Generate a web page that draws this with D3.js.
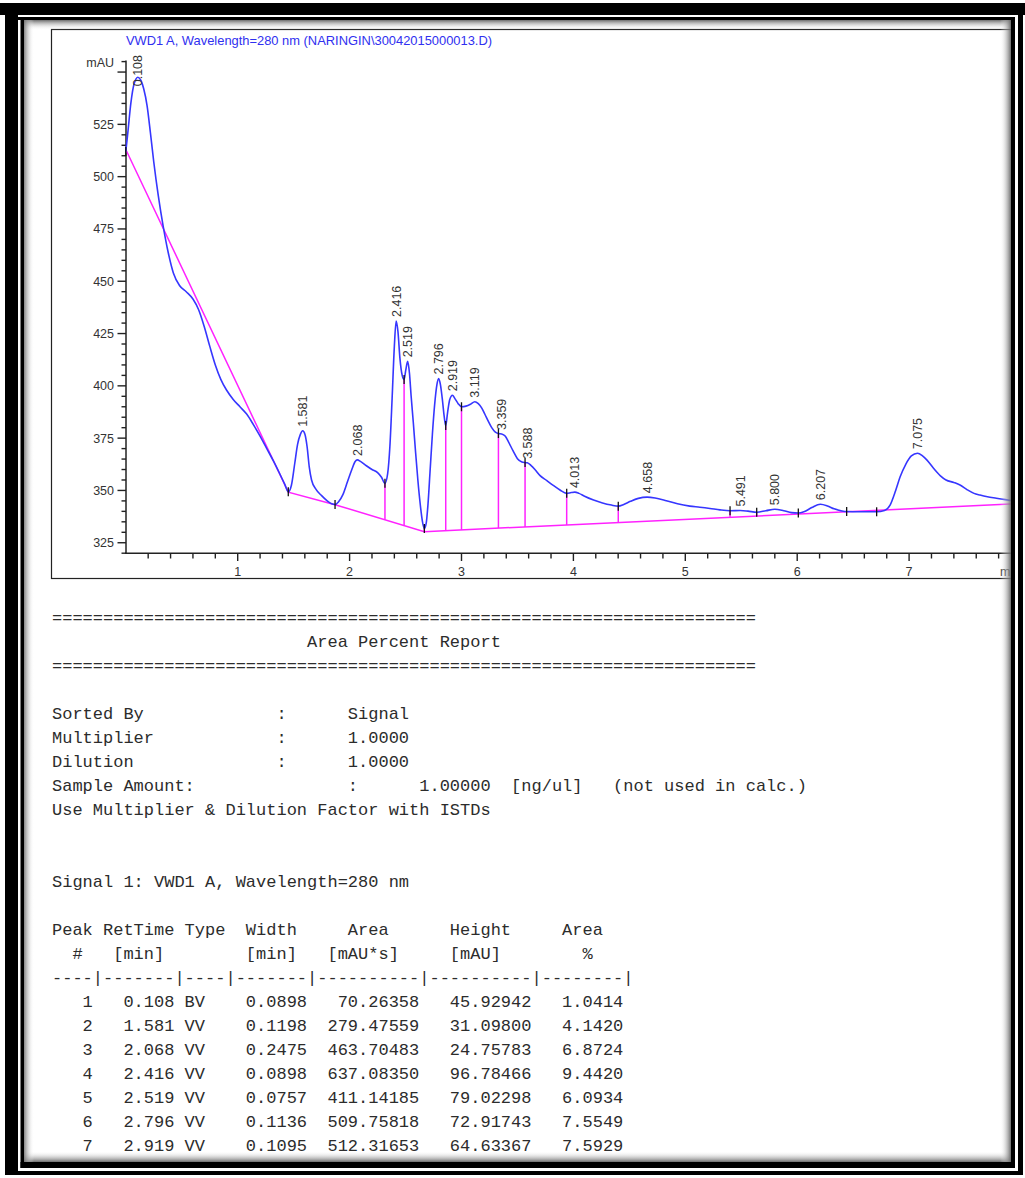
<!DOCTYPE html>
<html>
<head>
<meta charset="utf-8">
<script src="https://cdn.jsdelivr.net/npm/d3@7"></script>
<style>
  html, body { margin: 0; padding: 0; background: #fff; }
  svg { display: block; }
  .mono { font-family: "Liberation Mono", "DejaVu Sans Mono", monospace; font-size: 17px; fill: #2c2c2c; white-space: pre; }
  .sans { font-family: "Liberation Sans", Arial, sans-serif; }
</style>
</head>
<body>
<svg id="page" width="1025" height="1178"></svg>
<script>
// ---- Chromatogram: retention time (min), absorbance (mAU)
const signal = [
  [0.000, 512.0], [0.020, 522.0], [0.045, 535.0], [0.075, 544.5], [0.108, 547.5],
  [0.135, 546.0], [0.160, 542.0], [0.190, 534.0], [0.220, 521.0], [0.250, 507.0],
  [0.290, 491.0], [0.335, 476.0], [0.380, 463.5], [0.425, 454.0], [0.480, 448.0],
  [0.540, 445.0], [0.600, 441.5], [0.650, 436.5], [0.700, 428.5], [0.750, 419.0],
  [0.800, 410.0], [0.850, 403.0], [0.900, 398.0], [0.960, 393.5], [1.020, 390.0],
  [1.080, 386.5], [1.140, 381.5], [1.200, 376.0], [1.260, 370.0], [1.320, 364.0],
  [1.380, 357.5], [1.420, 353.0], [1.452, 349.4], [1.480, 352.5], [1.510, 363.0],
  [1.535, 372.0], [1.560, 376.8], [1.581, 378.5], [1.600, 377.0], [1.620, 371.0],
  [1.640, 361.0], [1.660, 355.0], [1.700, 350.5], [1.750, 347.5], [1.800, 345.0],
  [1.840, 343.6], [1.870, 343.3], [1.900, 344.5], [1.940, 348.0], [1.980, 354.0],
  [2.020, 360.0], [2.050, 363.8], [2.068, 364.6], [2.100, 363.8], [2.150, 361.8],
  [2.200, 360.0], [2.250, 358.5], [2.285, 356.3], [2.316, 353.4], [2.340, 358.0],
  [2.360, 371.0], [2.380, 394.0], [2.400, 419.0], [2.416, 431.0], [2.432, 426.0],
  [2.450, 413.0], [2.470, 405.0], [2.487, 403.0], [2.502, 407.5], [2.519, 411.7],
  [2.535, 406.0], [2.550, 395.0], [2.570, 382.0], [2.590, 368.0], [2.610, 355.0],
  [2.630, 344.0], [2.650, 335.5], [2.668, 331.8], [2.685, 334.5], [2.700, 343.0],
  [2.720, 360.0], [2.740, 377.0], [2.760, 391.0], [2.780, 400.5], [2.796, 403.5],
  [2.812, 400.5], [2.830, 393.0], [2.845, 385.5], [2.859, 381.0], [2.875, 387.0],
  [2.895, 393.5], [2.919, 395.5], [2.940, 394.0], [2.970, 391.5], [3.000, 390.0],
  [3.040, 390.3], [3.080, 391.2], [3.119, 392.4], [3.150, 391.5], [3.180, 389.5],
  [3.210, 386.3], [3.240, 383.0], [3.270, 380.0], [3.300, 378.0], [3.330, 377.2],
  [3.359, 377.0], [3.390, 376.0], [3.420, 373.2], [3.460, 369.0], [3.500, 365.2],
  [3.540, 363.6], [3.568, 363.3], [3.588, 363.2], [3.620, 362.0], [3.660, 359.8],
  [3.700, 357.2], [3.760, 354.8], [3.820, 352.4], [3.880, 350.2], [3.940, 348.6],
  [3.980, 349.0], [4.013, 349.2], [4.050, 348.6], [4.100, 347.2], [4.180, 345.4],
  [4.260, 344.0], [4.340, 343.0], [4.401, 342.5], [4.450, 343.3], [4.510, 344.8],
  [4.580, 346.2], [4.658, 346.8], [4.730, 346.4], [4.830, 345.1], [4.930, 343.6],
  [5.040, 342.5], [5.130, 342.0], [5.220, 341.4], [5.310, 340.7], [5.400, 340.3],
  [5.491, 340.4], [5.560, 340.1], [5.638, 339.6], [5.720, 340.3], [5.800, 341.0],
  [5.880, 340.3], [5.950, 339.4], [6.010, 339.2], [6.060, 339.8], [6.130, 341.8],
  [6.207, 343.4], [6.270, 342.6], [6.330, 341.2], [6.400, 340.2], [6.442, 339.9],
  [6.550, 339.8], [6.650, 339.8], [6.710, 339.8], [6.780, 340.4], [6.830, 343.0],
  [6.880, 350.0], [6.920, 356.5], [6.970, 362.5], [7.020, 366.5], [7.075, 367.8],
  [7.120, 366.5], [7.160, 364.5], [7.220, 360.5], [7.280, 357.0], [7.330, 355.0],
  [7.400, 353.8], [7.455, 352.6], [7.520, 350.3], [7.580, 348.6], [7.634, 347.8],
  [7.700, 347.0], [7.780, 346.3], [7.860, 345.6], [7.950, 344.8]
];

// Integration baseline vertices (min, mAU)
const baselineTime = [0, 1.452, 1.870, 2.668, 7.950];
const baselineMAU  = [513.0, 349.2, 343.2, 330.3, 343.6];

// Peak start / end markers (min)
const markerTime = [0, 1.452, 1.870, 2.316, 2.487, 2.668, 2.859, 3.000, 3.330,
                    3.568, 3.940, 4.401, 5.400, 5.638, 6.010, 6.442, 6.710];

// Peak apex retention times
const peakRT = ["0.108", "1.581", "2.068", "2.416", "2.519", "2.796", "2.919", "3.119",
                "3.359", "3.588", "4.013", "4.658", "5.491", "5.800", "6.207", "7.075"];

// Axis ticks
const yTickValues = [325, 350, 375, 400, 425, 450, 475, 500, 525];
const xTickValues = [1, 2, 3, 4, 5, 6, 7];

const chartTitle = "VWD1 A, Wavelength=280 nm (NARINGIN\\30042015000013.D)";

// ---- Area percent report table
const tblPeak   = [1, 2, 3, 4, 5, 6, 7];
const tblRT     = [0.108, 1.581, 2.068, 2.416, 2.519, 2.796, 2.919];
const tblType   = ["BV", "VV", "VV", "VV", "VV", "VV", "VV"];
const tblWidth  = [0.0898, 0.1198, 0.2475, 0.0898, 0.0757, 0.1136, 0.1095];
const tblArea   = [70.26358, 279.47559, 463.70483, 637.08350, 411.14185, 509.75818, 512.31653];
const tblHeight = [45.92942, 31.09800, 24.75783, 96.78466, 79.02298, 72.91743, 64.63367];
const tblPct    = [1.0414, 4.1420, 6.8724, 9.4420, 6.0934, 7.5549, 7.5929];

// ---------------------------------------------------------------
const svg = d3.select("#page");

const x = d3.scaleLinear().domain([0, 7.95]).range([125.8, 125.8 + 7.95 * 111.9]);
const y = d3.scaleLinear().domain([320, 555]).range([553.2, 61.6]);

const sigT = signal.map(d => d[0]);
const sigV = signal.map(d => d[1]);
const valueAt = t => {
  const i = d3.bisectLeft(sigT, t - 1e-9);
  if (i <= 0) return sigV[0];
  if (i >= sigT.length) return sigV[sigV.length - 1];
  const t0 = sigT[i - 1], t1 = sigT[i];
  return sigV[i - 1] + (sigV[i] - sigV[i - 1]) * (t - t0) / (t1 - t0);
};
const baseAt = t => {
  const i = Math.min(Math.max(d3.bisectRight(baselineTime, t), 1), baselineTime.length - 1);
  const t0 = baselineTime[i - 1], t1 = baselineTime[i];
  return baselineMAU[i - 1] + (baselineMAU[i] - baselineMAU[i - 1]) * (t - t0) / (t1 - t0);
};

// chart frame
svg.append("rect")
  .attr("x", 51.5).attr("y", 29.5).attr("width", 1000).attr("height", 549)
  .attr("fill", "none").attr("stroke", "#222").attr("stroke-width", 1.2);

// title
svg.append("text").attr("class", "sans")
  .attr("x", 126).attr("y", 44.5)
  .attr("font-size", 12.9).attr("fill", "#3030f0")
  .text(chartTitle);

// y axis
const yMinor = d3.range(320, 556, 5);
svg.append("line").attr("x1", 126).attr("x2", 126).attr("y1", y(555) - 1).attr("y2", 553.2)
  .attr("stroke", "#222").attr("stroke-width", 1.5);
svg.append("g").selectAll("line").data(yMinor).join("line")
  .attr("x1", d => (d % 25 === 0) ? 117.5 : 121.5).attr("x2", 126)
  .attr("y1", d => y(d)).attr("y2", d => y(d))
  .attr("stroke", "#222").attr("stroke-width", 1.4);
svg.append("g").selectAll("text").data(yTickValues).join("text")
  .attr("class", "sans").attr("font-size", 12.5).attr("fill", "#333")
  .attr("text-anchor", "end").attr("x", 114).attr("y", d => y(d)).attr("dy", "0.36em")
  .text(d => d);
svg.append("text").attr("class", "sans").attr("font-size", 12.5).attr("fill", "#333")
  .attr("text-anchor", "end").attr("x", 114).attr("y", 62.5).attr("dy", "0.36em")
  .text("mAU");

// x axis
const xMinor = d3.range(0.2, 7.95, 0.2);
svg.append("line").attr("x1", 125).attr("x2", 1020).attr("y1", 553.2).attr("y2", 553.2)
  .attr("stroke", "#222").attr("stroke-width", 1.5);
svg.append("g").selectAll("line").data(xMinor).join("line")
  .attr("x1", d => x(d)).attr("x2", d => x(d))
  .attr("y1", 553.2).attr("y2", d => (Math.abs(d - Math.round(d)) < 1e-6) ? 561 : 558.5)
  .attr("stroke", "#222").attr("stroke-width", 1.4);
svg.append("g").selectAll("text").data(xTickValues).join("text")
  .attr("class", "sans").attr("font-size", 12.5).attr("fill", "#333")
  .attr("text-anchor", "middle").attr("x", d => x(d)).attr("y", 575.5)
  .text(d => d);
svg.append("text").attr("class", "sans").attr("font-size", 12.5).attr("fill", "#333")
  .attr("x", 1000).attr("y", 575.5).text("min");

// baseline
const line = d3.line().x(d => x(d[0])).y(d => y(d[1]));
svg.append("path")
  .datum(baselineTime.map((t, i) => [t, baselineMAU[i]]))
  .attr("d", line).attr("fill", "none").attr("stroke", "#ff22ff").attr("stroke-width", 1.5);

// drop lines at peak boundaries
svg.append("g").selectAll("line")
  .data(markerTime.filter(t => valueAt(t) - baseAt(t) > 0.8))
  .join("line")
  .attr("x1", d => x(d)).attr("x2", d => x(d))
  .attr("y1", d => y(valueAt(d))).attr("y2", d => y(baseAt(d)))
  .attr("stroke", "#ff22ff").attr("stroke-width", 1.5);

// signal trace
svg.append("path")
  .datum(signal)
  .attr("d", d3.line().x(d => x(d[0])).y(d => y(d[1])).curve(d3.curveMonotoneX))
  .attr("fill", "none").attr("stroke", "#3636ff").attr("stroke-width", 1.6);

// start / end markers
svg.append("g").selectAll("line").data(markerTime).join("line")
  .attr("x1", d => x(d)).attr("x2", d => x(d))
  .attr("y1", d => y(valueAt(d)) - 4.5).attr("y2", d => y(valueAt(d)) + 4.5)
  .attr("stroke", "#111").attr("stroke-width", 1.3);

// retention time labels above each apex
const lbl = svg.append("g").selectAll("text").data(peakRT).join("text")
  .attr("class", "sans").attr("font-size", 12.5).attr("fill", "#333")
  .attr("dy", "0.36em")
  .text(d => d);
lbl.each(function (d) {
  const t = +d;
  const len = this.getComputedTextLength();
  const bottom = Math.max(y(valueAt(t)) - 4, 55 + len);
  d3.select(this).attr("transform", `translate(${x(t)},${bottom}) rotate(-90)`);
});

// ---- report text
const eq = "=".repeat(69);
const pad = (s, n) => String(s).padStart(n, " ");
const rpad = (s, n) => String(s).padEnd(n, " ");
const reportLines = [
  eq,
  " ".repeat(25) + "Area Percent Report",
  eq,
  "",
  rpad("Sorted By", 22) + ":      Signal",
  rpad("Multiplier", 22) + ":      1.0000",
  rpad("Dilution", 22) + ":      1.0000",
  rpad("Sample Amount:", 29) + ":      1.00000  [ng/ul]   (not used in calc.)",
  "Use Multiplier & Dilution Factor with ISTDs",
  "",
  "",
  "Signal 1: VWD1 A, Wavelength=280 nm",
  "",
  "Peak RetTime Type  Width     Area      Height     Area  ",
  "  #   [min]        [min]   [mAU*s]     [mAU]        %   ",
  "----|-------|----|-------|----------|----------|--------|"
];
tblPeak.forEach((p, i) => {
  reportLines.push(
    pad(p, 4) + " " + pad(tblRT[i].toFixed(3), 7) + " " + rpad(tblType[i], 4) + " " +
    pad(tblWidth[i].toFixed(4), 7) + " " + pad(tblArea[i].toFixed(5), 10) + " " +
    pad(tblHeight[i].toFixed(5), 10) + " " + pad(tblPct[i].toFixed(4), 8)
  );
});
svg.append("g").selectAll("text").data(reportLines).join("text")
  .attr("class", "mono")
  .attr("xml:space", "preserve")
  .attr("x", 52).attr("y", (d, i) => 622.5 + 24 * i)
  .text(d => d);

// ---- framed border with inner shadow
const defs = svg.append("defs");
const grad = (id, x1, y1, x2, y2) => {
  const g = defs.append("linearGradient").attr("id", id)
    .attr("x1", x1).attr("y1", y1).attr("x2", x2).attr("y2", y2);
  g.append("stop").attr("offset", 0).attr("stop-color", "#666").attr("stop-opacity", 0.95);
  g.append("stop").attr("offset", 1).attr("stop-color", "#fff").attr("stop-opacity", 0);
};
grad("shTop", 0, 0, 0, 1);
grad("shBottom", 0, 1, 0, 0);
grad("shLeft", 0, 0, 1, 0);
grad("shRight", 1, 0, 0, 0);

const frame = svg.append("g");
// white outside the frame (covers anything running past it)
frame.append("rect").attr("x", 1011).attr("y", 0).attr("width", 14).attr("height", 1178).attr("fill", "#fff");
frame.append("rect").attr("x", 0).attr("y", 1162).attr("width", 1025).attr("height", 16).attr("fill", "#fff");
// inner shadows
frame.append("rect").attr("x", 23).attr("y", 20).attr("width", 988).attr("height", 10).attr("fill", "url(#shTop)");
frame.append("rect").attr("x", 23).attr("y", 1151).attr("width", 988).attr("height", 11).attr("fill", "url(#shBottom)");
frame.append("rect").attr("x", 23).attr("y", 20).attr("width", 11).attr("height", 1142).attr("fill", "url(#shLeft)");
frame.append("rect").attr("x", 1000).attr("y", 20).attr("width", 11).attr("height", 1142).attr("fill", "url(#shRight)");
// inner line
frame.append("rect").attr("x", 17).attr("y", 17).attr("width", 998).attr("height", 3).attr("fill", "#000");
frame.append("rect").attr("x", 20.5).attr("y", 17).attr("width", 3.5).attr("height", 1151).attr("fill", "#000");
frame.append("rect").attr("x", 1011).attr("y", 17).attr("width", 4).attr("height", 1151).attr("fill", "#000");
frame.append("rect").attr("x", 20.5).attr("y", 1162).attr("width", 994.5).attr("height", 6).attr("fill", "#000");
// outer band
frame.append("rect").attr("x", 0).attr("y", 3).attr("width", 1025).attr("height", 12).attr("fill", "#000");
frame.append("rect").attr("x", 5).attr("y", 3).attr("width", 13).attr("height", 1172).attr("fill", "#000");
frame.append("rect").attr("x", 1018).attr("y", 3).attr("width", 5).attr("height", 1172).attr("fill", "#000");
frame.append("rect").attr("x", 5).attr("y", 1171).attr("width", 1018).attr("height", 4).attr("fill", "#000");
</script>
</body>
</html>
